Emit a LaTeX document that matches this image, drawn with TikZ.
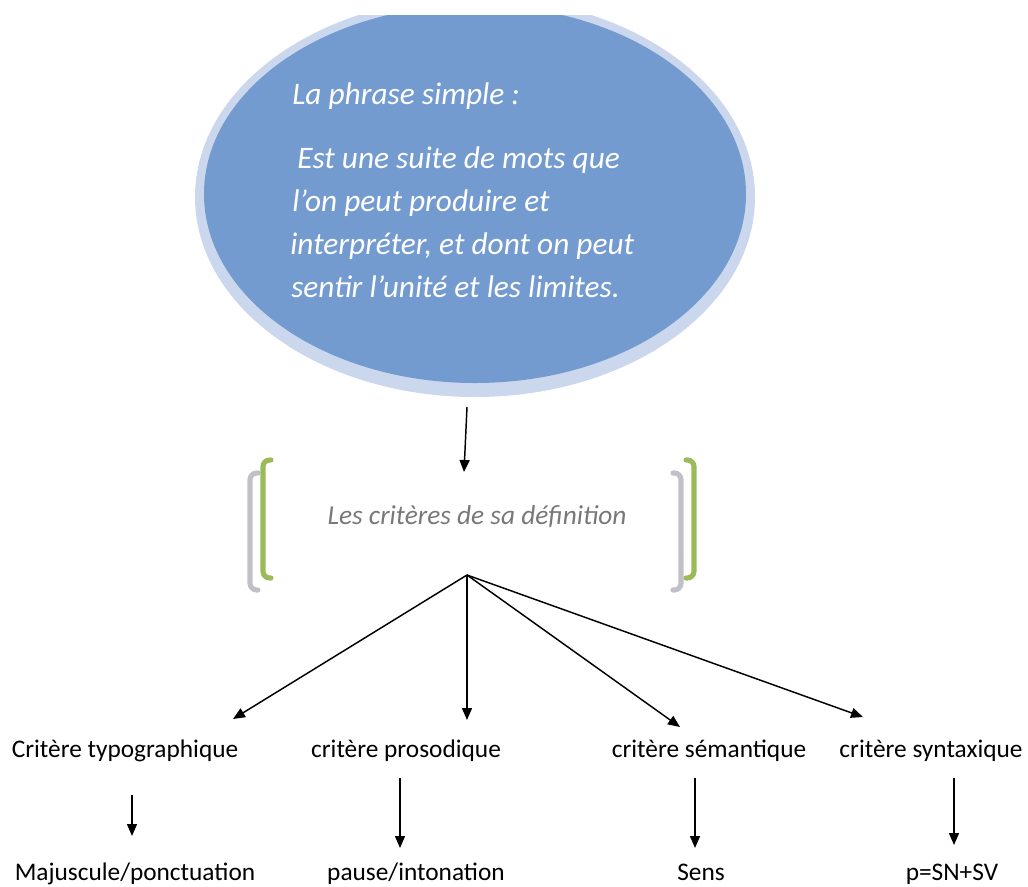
\documentclass[tikz,border=0pt]{standalone}
\usepackage{fontspec}
\setmainfont{Carlito}
\usetikzlibrary{arrows.meta}
\definecolor{bulle}{RGB}{116,155,207}
\definecolor{bord}{RGB}{203,215,237}
\definecolor{vert}{RGB}{155,187,89}
\definecolor{gris}{RGB}{192,192,200}
\definecolor{grisTexte}{RGB}{120,120,120}

\begin{document}
\begin{tikzpicture}[x=0.75pt,y=0.75pt,yscale=-1,xscale=1,
  fleche/.style={-{Triangle[length=9pt,width=7.5pt]},line width=1.1pt},
  crochet/.style={line width=3.8pt,line cap=round,rounded corners=5pt},
  critere/.style={anchor=base,inner sep=0.75pt,font=\fontsize{19}{23}\selectfont},
  ligne/.style={anchor=base west,inner sep=0.75pt,text=white,font=\fontsize{23.5}{28}\selectfont\itshape}]
\useasboundingbox (0,0) rectangle (1028,886);
%Shape: Ellipse
\begin{scope}
\clip (0,15) rectangle (1028,886);
\fill [color=bord] (475,197) ellipse [x radius=280, y radius=200];
\fill [color=bulle] (475,194) ellipse [x radius=271, y radius=189];
\end{scope}
% Text Node
\node [ligne] (titre) at (291,104) {La phrase simple :};
\node [ligne] (phraseA) at (296,168) {Est une suite de mots que};
\node [ligne] (phraseB) at (291,211) {l’on peut produire et};
\node [ligne] (phraseC) at (289,254) {interpréter, et dont on peut};
\node [ligne] (phraseD) at (290,297) {sentir l’unité et les limites.};
%Straight Lines
\coordinate (bulleBas) at (467,407);
\coordinate (defHaut) at (464,472);
\draw [fleche] (bulleBas) -- (defHaut);
%Shape: Brackets
\draw [crochet,color=gris] (258,473) -- (250,473) -- (250,590) -- (258,590);
\draw [crochet,color=vert] (271,460) -- (263,460) -- (263,578) -- (271,578);
\draw [crochet,color=gris] (673,473) -- (681,473) -- (681,590) -- (673,590);
\draw [crochet,color=vert] (686,460) -- (694,460) -- (694,578) -- (686,578);
% Text Node
\node [inner sep=0.75pt,text=grisTexte,font=\fontsize{20.5}{24}\selectfont\itshape] (definition) at (477,517) {Les critères de sa définition};
%Straight Lines
\coordinate (sommet) at (467,575);
\coordinate (versTypo) at (233,719);
\coordinate (versProso) at (467,720);
\coordinate (versSem) at (680,727);
\coordinate (versSynt) at (863,717);
\draw [fleche] (sommet) -- (versTypo);
\draw [fleche] (sommet) -- (versProso);
\draw [fleche] (sommet) -- (versSem);
\draw [fleche] (sommet) -- (versSynt);
% Text Node
\node [critere] (typo) at (125,757) {Critère typographique};
\node [critere] (proso) at (406,757) {critère prosodique};
\node [critere] (sem) at (709,757) {critère sémantique};
\node [critere] (synt) at (931,757) {critère syntaxique};
%Straight Lines
\coordinate (typoBas) at (132,795);
\coordinate (prosoBas) at (400,778);
\coordinate (semBas) at (695,778);
\coordinate (syntBas) at (954,778);
\coordinate (majHaut) at (132,836);
\coordinate (pauseHaut) at (400,848);
\coordinate (sensHaut) at (695,848);
\coordinate (pHaut) at (954,845);
\draw [fleche] (typoBas) -- (majHaut);
\draw [fleche] (prosoBas) -- (pauseHaut);
\draw [fleche] (semBas) -- (sensHaut);
\draw [fleche] (syntBas) -- (pHaut);
% Text Node
\node [critere] (maj) at (135,880) {Majuscule/ponctuation};
\node [critere] (pause) at (416,880) {pause/intonation};
\node [critere] (sens) at (701,880) {Sens};
\node [critere] (formule) at (952,880) {p=SN+SV};
\end{tikzpicture}
\end{document}
